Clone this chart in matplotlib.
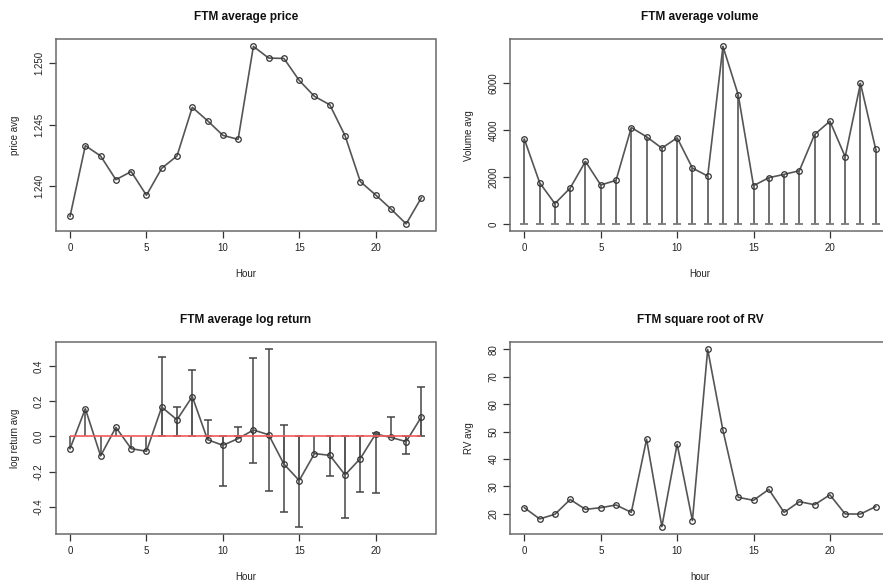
import numpy as np
import matplotlib
matplotlib.use("Agg")
import matplotlib.pyplot as plt

plt.rcParams["font.family"] = ["Liberation Sans", "DejaVu Sans"]

hours = list(range(24))

price_avg = [1.23753, 1.24328, 1.24244, 1.24051, 1.24117, 1.23924, 1.24144, 1.24244,
             1.24640, 1.24531, 1.24412, 1.24379, 1.25136, 1.25041, 1.25038, 1.24859,
             1.24729, 1.24661, 1.24409, 1.24035, 1.23927, 1.23813, 1.23691, 1.23905]

volume_avg = [3608, 1755, 863, 1528, 2660, 1656, 1854, 4104, 3708, 3226, 3665, 2377,
              2038, 7557, 5491, 1627, 1967, 2108, 2264, 3807, 4373, 2858, 5986, 3170]

logret_avg = [-0.070, 0.157, -0.111, 0.051, -0.070, -0.085, 0.166, 0.094, 0.226, -0.019,
              -0.051, -0.013, 0.036, 0.009, -0.158, -0.251, -0.098, -0.108, -0.219, -0.126,
              0.013, -0.006, -0.030, 0.111]
# interval ends for each hour (nan = no interval drawn)
nan = np.nan
logret_lo = [nan, nan, nan, nan, nan, nan, 0.0, 0.0, 0.0, 0.0, -0.281, 0.0,
             -0.149, -0.311, -0.430, -0.513, nan, -0.223, -0.464, -0.315, -0.321, 0.0, -0.100, 0.0]
logret_hi = [nan, nan, nan, nan, nan, nan, 0.449, 0.166, 0.379, 0.094, 0.0, 0.051,
             0.445, 0.494, 0.062, 0.0, nan, 0.0, 0.0, 0.0, 0.021, 0.109, 0.0, 0.283]

rv_avg = [22.2, 18.1, 19.8, 25.2, 21.6, 22.2, 23.2, 20.5, 47.2, 15.3, 45.4, 17.5,
          80.0, 50.4, 26.0, 24.9, 28.9, 20.5, 24.4, 23.3, 26.9, 19.9, 19.9, 22.6]

W, H = 883, 586
fig = plt.figure(figsize=(W / 100, H / 100), dpi=100)

LINE = "#555555"
TXT = "#222222"
BASE = 7.0
TITLE = 8.6


def make_axes(x0, y0, x1, y1):
    return fig.add_axes([x0 / W, 1 - y1 / H, (x1 - x0) / W, (y1 - y0) / H])


def r_ylim(vals):
    lo, hi = np.nanmin(vals), np.nanmax(vals)
    pad = 0.04 * (hi - lo)
    return lo - pad, hi + pad


def style(ax, title, xlabel, ylabel, yticks, yfmt):
    ax.set_xlim(-0.92, 23.92)
    ax.set_xticks([0, 5, 10, 15, 20])
    ax.set_yticks(yticks)
    ax.set_yticklabels([yfmt(v) for v in yticks])
    ax.tick_params(axis="both", direction="out", length=5, width=0.9, color="#333333",
                   labelsize=BASE, labelcolor=TXT, pad=3.6)
    ax.tick_params(axis="y", labelrotation=90)
    for lab in ax.get_yticklabels():
        lab.set_va("center")
    for s in ax.spines.values():
        s.set_color("#6a6a6a")
        s.set_linewidth(1.1)
    ax.set_title(title, fontsize=TITLE, fontweight="bold", color="#111111", pad=14)
    ax.set_xlabel(xlabel, fontsize=BASE, color=TXT)
    ax.set_ylabel(ylabel, fontsize=BASE, color=TXT)
    ax.xaxis.set_label_coords(0.5, -0.198)
    ax.yaxis.set_label_coords(-0.095, 0.5)


def series(ax, y):
    ax.plot(hours, y, color=LINE, lw=1.2, marker="o", ms=4.0, mfc="none",
            mec="#333333", mew=0.9, zorder=4)


# price
ax1 = make_axes(56, 39.3, 435.5, 231)
series(ax1, price_avg)
ax1.set_ylim(*r_ylim(price_avg))
style(ax1, "FTM average price", "Hour", "price avg", [1.240, 1.245, 1.250],
      lambda v: f"{v:.3f}")

# volume
ax2 = make_axes(510.3, 39.3, 889.8, 231)
ax2.vlines(hours, 0, volume_avg, color=LINE, lw=1.2, zorder=2)
ax2.plot(hours, [0] * len(hours), ls="none", marker="_", ms=6.0, mew=1.3,
         color="#7a7a7a", zorder=2)
series(ax2, volume_avg)
ax2.set_ylim(*r_ylim(volume_avg + [0]))
style(ax2, "FTM average volume", "Hour", "Volume avg", [0, 2000, 4000, 6000],
      lambda v: f"{v:d}")

# log return
ax3 = make_axes(56, 342.3, 435.5, 533.7)
ax3.vlines(hours, 0, logret_avg, color=LINE, lw=1.2, zorder=2)
lo = np.array(logret_lo)
hi = np.array(logret_hi)
ax3.vlines(hours, lo, hi, color=LINE, lw=1.2, zorder=2)
ax3.plot(hours, lo, ls="none", marker="_", ms=6.4, mew=1.1, color="#444444", zorder=2)
ax3.plot(hours, hi, ls="none", marker="_", ms=6.4, mew=1.1, color="#444444", zorder=2)
series(ax3, logret_avg)
ax3.hlines(0, hours[0], hours[-1], color="#f25a5a", lw=1.2, zorder=5)
ax3.set_ylim(*r_ylim(logret_avg + logret_lo + logret_hi))
style(ax3, "FTM average log return", "Hour", "log return avg",
      [-0.4, -0.2, 0.0, 0.2, 0.4], lambda v: f"{v:.1f}")

# realised volatility
ax4 = make_axes(510.3, 342.3, 889.8, 533.7)
series(ax4, rv_avg)
ax4.set_ylim(*r_ylim(rv_avg))
style(ax4, "FTM square root of RV", "hour", "RV avg", [20, 30, 40, 50, 60, 70, 80],
      lambda v: f"{v:d}")

fig.savefig("out.png", dpi=100)
